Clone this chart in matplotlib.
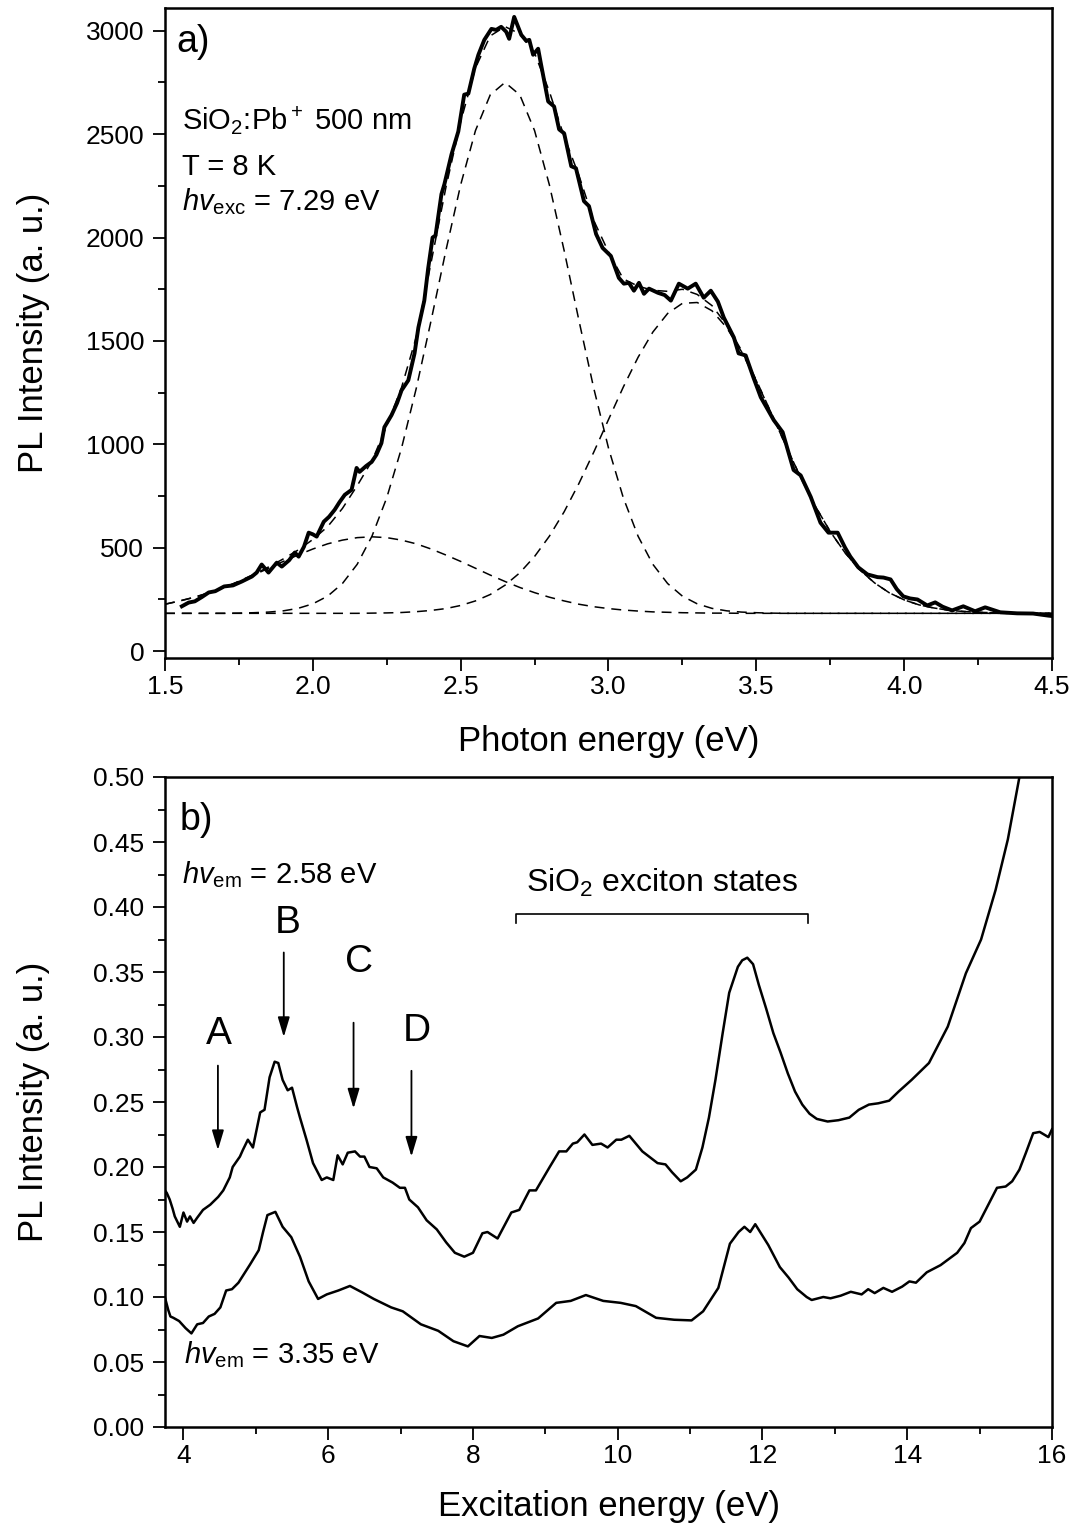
import matplotlib
matplotlib.use("Agg")
import matplotlib.pyplot as plt
from matplotlib.ticker import MultipleLocator, FormatStrFormatter

plt.rcParams['font.family'] = ['Liberation Sans', 'DejaVu Sans']
plt.rcParams['mathtext.fontset'] = 'custom'
plt.rcParams['mathtext.rm'] = 'Liberation Sans'
plt.rcParams['mathtext.it'] = 'Liberation Sans:italic'

# ---- panel a: PL spectrum, hv_exc = 7.29 eV ----
pl_x = [1.557, 1.58, 1.601, 1.625, 1.648, 1.67, 1.70, 1.73, 1.76, 1.794, 1.81, 1.827, 1.85, 1.878,
        1.895, 1.92, 1.939, 1.952, 1.97, 1.986, 2.0, 2.013, 2.037, 2.055, 2.074, 2.09, 2.108, 2.131,
        2.148, 2.158, 2.18, 2.199, 2.215, 2.232, 2.242, 2.266, 2.285, 2.30, 2.323, 2.344, 2.357, 2.377,
        2.39, 2.405, 2.415, 2.435, 2.445, 2.469, 2.492, 2.512, 2.526, 2.546, 2.56, 2.58, 2.604, 2.62,
        2.637, 2.654, 2.664, 2.681, 2.705, 2.722, 2.732, 2.745, 2.762, 2.772, 2.796, 2.816, 2.833, 2.85,
        2.874, 2.89, 2.917, 2.934, 2.958, 2.98, 3.008, 3.035, 3.052, 3.069, 3.086, 3.103, 3.12, 3.137,
        3.167, 3.19, 3.211, 3.238, 3.268, 3.295, 3.322, 3.346, 3.37, 3.39, 3.424, 3.44, 3.464, 3.49,
        3.515, 3.559, 3.589, 3.626, 3.65, 3.684, 3.717, 3.744, 3.775, 3.80, 3.818, 3.845, 3.876, 3.91,
        3.93, 3.954, 3.975, 3.997, 4.02, 4.045, 4.078, 4.105, 4.13, 4.162, 4.2, 4.24, 4.274, 4.325,
        4.382, 4.436, 4.487, 4.5]
pl_y = [217, 235, 241, 262, 284, 290, 313, 318, 337, 361, 380, 419, 380, 428,
        409, 440, 477, 457, 505, 573, 565, 554, 626, 650, 684, 720, 756, 780,
        886, 867, 895, 915, 950, 1006, 1083, 1141, 1200, 1261, 1310, 1440, 1565, 1695,
        1850, 2000, 2010, 2210, 2258, 2402, 2513, 2691, 2696, 2817, 2884, 2956, 3009, 3004,
        3019, 2995, 2961, 3067, 2980, 2951, 2956, 2884, 2913, 2836, 2658, 2634, 2523, 2504,
        2345, 2335, 2176, 2152, 2017, 1950, 1911, 1805, 1777, 1781, 1743, 1781, 1728, 1753,
        1733, 1722, 1695, 1777, 1753, 1777, 1709, 1743, 1690, 1613, 1517, 1440, 1430, 1324,
        1228, 1117, 1059, 876, 850, 746, 621, 573, 573, 501, 457, 405, 371, 358,
        356, 347, 300, 265, 255, 250, 221, 236, 215, 197, 217, 193, 212, 188,
        183, 182, 172, 170]

# Gaussian fit components
fit_x = [1.50, 1.55, 1.60, 1.65, 1.70, 1.75, 1.80, 1.85, 1.90, 1.95, 2.00, 2.05, 2.10, 2.15, 2.20,
         2.25, 2.30, 2.35, 2.40, 2.45, 2.50, 2.55, 2.60, 2.65, 2.70, 2.75, 2.80, 2.85, 2.90, 2.95,
         3.00, 3.05, 3.10, 3.15, 3.20, 3.25, 3.30, 3.35, 3.40, 3.45, 3.50, 3.55, 3.60, 3.65, 3.70,
         3.75, 3.80, 3.85, 3.90, 3.95, 4.00, 4.05, 4.10, 4.15, 4.20, 4.25, 4.30, 4.35, 4.40, 4.45,
         4.50]
fit_g1 = [227, 243, 261, 283, 308, 337, 368, 401, 434, 465, 494, 519, 537, 549, 553,
          549, 537, 519, 494, 465, 434, 401, 368, 337, 308, 283, 261, 243, 227, 215,
          206, 199, 194, 190, 188, 186, 185, 184, 184, 183, 183, 183, 183, 183, 183,
          183, 183, 183, 183, 183, 183, 183, 183, 183, 183, 183, 183, 183, 183, 183,
          183]
fit_g2 = [183, 183, 183, 183, 183, 184, 186, 189, 195, 207, 229, 266, 327, 420, 556,
          742, 982, 1272, 1599, 1937, 2255, 2517, 2690, 2750, 2690, 2517, 2255, 1937, 1599, 1272,
          982, 742, 556, 420, 327, 266, 229, 207, 195, 189, 186, 184, 183, 183, 183,
          183, 183, 183, 183, 183, 183, 183, 183, 183, 183, 183, 183, 183, 183, 183,
          183]
fit_g3 = [183, 183, 183, 183, 183, 183, 183, 183, 183, 183, 183, 183, 183, 183, 184,
          185, 187, 191, 197, 206, 221, 243, 274, 319, 379, 458, 556, 674, 811, 962,
          1120, 1277, 1421, 1543, 1633, 1682, 1686, 1646, 1564, 1448, 1307, 1152, 993, 840, 700,
          578, 476, 393, 330, 282, 248, 224, 209, 198, 192, 188, 186, 185, 184, 183,
          183]
fit_sum = [227, 243, 261, 283, 308, 338, 371, 407, 446, 489, 540, 602, 690, 800, 920,
           1090, 1275, 1520, 1880, 2242, 2560, 2820, 2975, 3020, 2985, 2892, 2706, 2488, 2300, 2083,
           1930, 1800, 1765, 1745, 1740, 1750, 1725, 1671, 1577, 1454, 1310, 1153, 993, 840, 700,
           578, 476, 393, 330, 282, 248, 224, 209, 198, 192, 188, 186, 185, 184, 183,
           183]

# ---- panel b: PLE spectra ----
exc_a = [3.745, 3.77, 3.81, 3.85, 3.88, 3.95, 4.0, 4.05, 4.09, 4.14, 4.19, 4.27, 4.37, 4.48, 4.55,
         4.64, 4.68, 4.78, 4.82, 4.89, 4.96, 5.06, 5.12, 5.19, 5.26, 5.31, 5.37, 5.44, 5.50, 5.57,
         5.61, 5.70, 5.79, 5.91, 5.98, 6.07, 6.13, 6.20, 6.27, 6.37, 6.44, 6.50, 6.57, 6.67, 6.76,
         6.89, 6.99, 7.06, 7.12, 7.24, 7.36, 7.50, 7.63, 7.75, 7.88, 8.0, 8.13, 8.2, 8.34, 8.53,
         8.64, 8.78, 8.87, 9.06, 9.19, 9.29, 9.38, 9.44, 9.54, 9.65, 9.77, 9.86, 9.98, 10.05, 10.16,
         10.34, 10.55, 10.66, 10.75, 10.87, 10.96, 11.08, 11.17, 11.26, 11.35, 11.45, 11.54, 11.6, 11.66, 11.72,
         11.79, 11.87, 11.95, 12.05, 12.15, 12.25, 12.35, 12.45, 12.55, 12.65, 12.75, 12.9, 13.05, 13.2, 13.33,
         13.47, 13.6, 13.75, 13.88, 14.06, 14.3, 14.56, 14.81, 15.02, 15.22, 15.39, 15.55, 15.6]
ple_258 = [0.182, 0.180, 0.175, 0.168, 0.162, 0.154, 0.165, 0.158, 0.162, 0.157, 0.161, 0.167, 0.171, 0.177, 0.182,
           0.192, 0.200, 0.208, 0.213, 0.221, 0.215, 0.242, 0.244, 0.269, 0.281, 0.280, 0.267, 0.259, 0.261, 0.246,
           0.238, 0.221, 0.203, 0.190, 0.192, 0.190, 0.209, 0.202, 0.211, 0.212, 0.208, 0.208, 0.200, 0.199, 0.192,
           0.188, 0.184, 0.184, 0.175, 0.169, 0.159, 0.152, 0.142, 0.134, 0.131, 0.134, 0.149, 0.150, 0.145, 0.165,
           0.167, 0.182, 0.182, 0.200, 0.212, 0.212, 0.218, 0.219, 0.225, 0.217, 0.218, 0.215, 0.221, 0.221, 0.224,
           0.212, 0.203, 0.202, 0.196, 0.189, 0.192, 0.198, 0.215, 0.238, 0.267, 0.303, 0.334, 0.344, 0.354, 0.359,
           0.361, 0.356, 0.340, 0.322, 0.303, 0.288, 0.272, 0.258, 0.248, 0.241, 0.237, 0.235, 0.236, 0.238, 0.244,
           0.248, 0.249, 0.251, 0.258, 0.267, 0.280, 0.308, 0.349, 0.375, 0.413, 0.452, 0.500, 0.520]

exc_b = [3.745, 3.79, 3.82, 3.86, 3.94, 4.03, 4.11, 4.19, 4.27, 4.35, 4.43, 4.51, 4.59, 4.67, 4.76,
         4.84, 4.92, 5.04, 5.10, 5.16, 5.27, 5.37, 5.49, 5.61, 5.73, 5.86, 5.98, 6.14, 6.30, 6.47,
         6.63, 6.87, 7.03, 7.28, 7.52, 7.73, 7.93, 8.09, 8.26, 8.42, 8.62, 8.90, 9.15, 9.35, 9.56,
         9.80, 10.04, 10.25, 10.53, 10.78, 11.02, 11.18, 11.39, 11.55, 11.67, 11.75, 11.83, 11.90, 12.08, 12.24,
         12.36, 12.48, 12.61, 12.68, 12.84, 12.94, 13.08, 13.22, 13.37, 13.46, 13.55, 13.67, 13.79, 13.93, 14.03,
         14.12, 14.27, 14.46, 14.69, 14.79, 14.88, 15.0, 15.12, 15.24, 15.36, 15.45, 15.55, 15.64, 15.74, 15.83,
         15.95, 16.0]
ple_335 = [0.0995, 0.090, 0.085, 0.084, 0.0815, 0.076, 0.072, 0.079, 0.080, 0.085, 0.087, 0.092, 0.105, 0.106, 0.111,
           0.118, 0.125, 0.136, 0.150, 0.163, 0.1655, 0.154, 0.146, 0.131, 0.112, 0.0985, 0.102, 0.105, 0.1085, 0.1035,
           0.0985, 0.092, 0.089, 0.079, 0.074, 0.066, 0.062, 0.070, 0.0685, 0.071, 0.0775, 0.0835, 0.0955, 0.097, 0.1015,
           0.097, 0.0955, 0.093, 0.084, 0.0825, 0.082, 0.089, 0.107, 0.141, 0.150, 0.154, 0.150, 0.156, 0.140, 0.123,
           0.115, 0.106, 0.100, 0.0977, 0.100, 0.099, 0.101, 0.104, 0.102, 0.106, 0.103, 0.107, 0.104, 0.108, 0.112,
           0.111, 0.119, 0.1245, 0.134, 0.1415, 0.153, 0.158, 0.171, 0.184, 0.185, 0.189, 0.198, 0.211, 0.226, 0.227,
           0.223, 0.229]

# arrow labels A-D
peak_labels = ['A', 'B', 'C', 'D']
peak_x = [4.476, 5.386, 6.35, 7.15]
peak_text_x = [4.49, 5.44, 6.43, 7.22]
peak_text_y = [0.295, 0.380, 0.350, 0.297]
arrow_top = [0.278, 0.365, 0.311, 0.274]
arrow_tip = [0.213, 0.300, 0.245, 0.208]

fig = plt.figure(figsize=(10.75, 15.33), dpi=100)
W, H = 1075.0, 1533.0
ax1 = fig.add_axes([165 / W, 1 - 658 / H, 887 / W, 650 / H])
ax2 = fig.add_axes([165 / W, 1 - 1427 / H, 887 / W, 650 / H])

dash = (6.5, 4.5)
for g in (fit_g1, fit_g2, fit_g3, fit_sum):
    ax1.plot(fit_x, g, color='k', lw=1.1, dashes=dash)
ax1.plot(pl_x, pl_y, color='k', lw=2.8)

ax1.set_xlim(1.5, 4.5)
ax1.set_ylim(-33, 3110)
ax1.xaxis.set_major_locator(MultipleLocator(0.5))
ax1.xaxis.set_minor_locator(MultipleLocator(0.25))
ax1.xaxis.set_major_formatter(FormatStrFormatter('%.1f'))
ax1.yaxis.set_major_locator(MultipleLocator(500))
ax1.yaxis.set_minor_locator(MultipleLocator(250))
ax1.set_xlabel('Photon energy (eV)', fontsize=25)
ax1.set_ylabel('PL Intensity (a. u.)', fontsize=25)
ax1.xaxis.set_label_coords(0.5, -0.103)
ax1.yaxis.set_label_coords(-0.13, 0.5)

ax1.text(0.013, 0.932, 'a)', transform=ax1.transAxes, fontsize=27)
ax1.text(0.019, 0.812, 'SiO$_2$:Pb$^+$ 500 nm', transform=ax1.transAxes, fontsize=21)
ax1.text(0.019, 0.743, 'T = 8 K', transform=ax1.transAxes, fontsize=21)
ax1.text(0.019, 0.689, r'$hv_{\rm exc}$ = 7.29 eV', transform=ax1.transAxes, fontsize=21)

ax2.plot(exc_a, ple_258, color='k', lw=1.8)
ax2.plot(exc_b, ple_335, color='k', lw=1.8)
ax2.set_xlim(3.745, 16)
ax2.set_ylim(0, 0.5)
ax2.xaxis.set_major_locator(MultipleLocator(2))
ax2.xaxis.set_minor_locator(MultipleLocator(1))
ax2.yaxis.set_major_locator(MultipleLocator(0.05))
ax2.yaxis.set_minor_locator(MultipleLocator(0.025))
ax2.yaxis.set_major_formatter(FormatStrFormatter('%.2f'))
ax2.set_xlabel('Excitation energy (eV)', fontsize=25)
ax2.set_ylabel('PL Intensity (a. u.)', fontsize=25)
ax2.xaxis.set_label_coords(0.5, -0.097)
ax2.yaxis.set_label_coords(-0.13, 0.5)

ax2.text(0.017, 0.918, 'b)', transform=ax2.transAxes, fontsize=27)
ax2.text(0.019, 0.837, r'$hv_{\rm em}$ = 2.58 eV', transform=ax2.transAxes, fontsize=21)
ax2.text(0.021, 0.098, r'$hv_{\rm em}$ = 3.35 eV', transform=ax2.transAxes, fontsize=21)

for lab, xa, xt, yt, y0, y1 in zip(peak_labels, peak_x, peak_text_x, peak_text_y, arrow_top, arrow_tip):
    ax2.text(xt, yt, lab, ha='center', va='baseline', fontsize=28)
    ax2.annotate('', xy=(xa, y1), xytext=(xa, y0),
                 arrowprops=dict(arrowstyle='-|>,head_length=0.6,head_width=0.18',
                                 color='k', lw=1.3, mutation_scale=20, shrinkA=0, shrinkB=0))

ax2.plot([8.59, 8.59, 12.63, 12.63], [0.388, 0.395, 0.395, 0.388], color='k', lw=1.2)
ax2.text(10.61, 0.4115, 'SiO$_2$ exciton states', ha='center', va='baseline', fontsize=23)

for ax in (ax1, ax2):
    for s in ax.spines.values():
        s.set_linewidth(1.8)
    ax.tick_params(which='both', direction='out', width=1.3, labelsize=19, top=False, right=False)
    ax.tick_params(which='major', length=9)
    ax.tick_params(which='minor', length=5)
    ax.tick_params(axis='y', which='major', pad=6)
    ax.tick_params(axis='x', which='major', pad=3)

fig.savefig('out.png', dpi=100)
